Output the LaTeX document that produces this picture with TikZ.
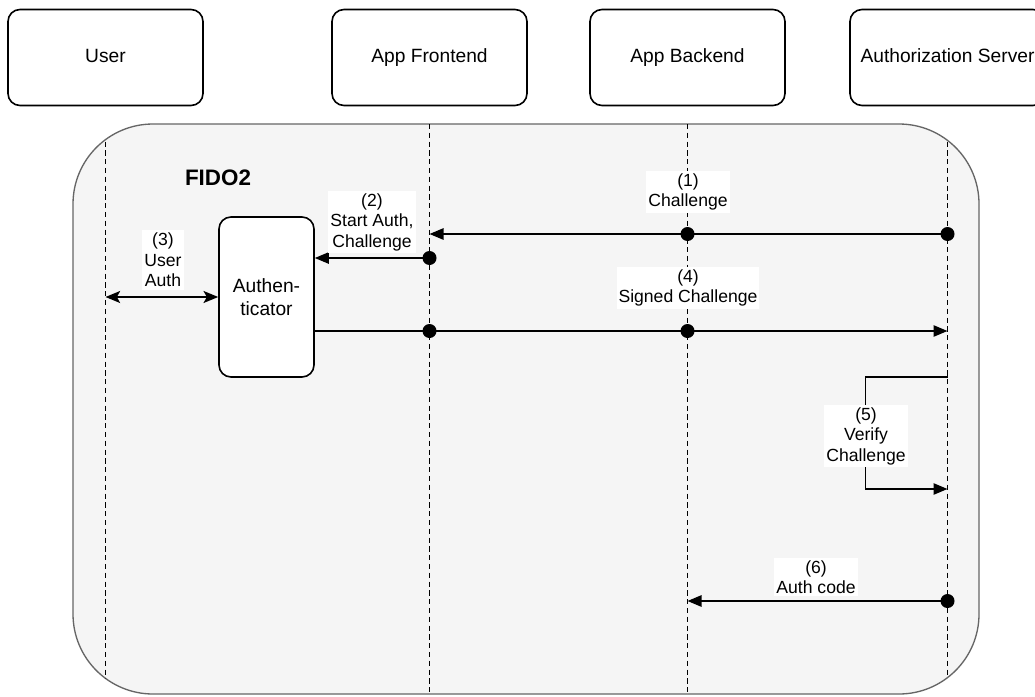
\documentclass[tikz,border=0pt]{standalone}
\usepackage{fontspec}
\setmainfont{Liberation Sans}
\usetikzlibrary{arrows.meta}

\definecolor{groupfill}{HTML}{F5F5F5}
\definecolor{groupline}{HTML}{666666}

\tikzset{
  actor/.style={draw, line width=1.2pt, rounded corners=9pt, fill=white,
    minimum width=146.25pt, minimum height=72pt, inner sep=0pt,
    text height=10.4pt, text depth=3pt,
    font=\fontsize{14.4}{17}\selectfont},
  authbox/.style={draw, line width=1.2pt, rounded corners=9pt, fill=white,
    minimum width=71.25pt, minimum height=120pt, inner sep=0pt, align=center,
    font=\fontsize{14.4}{17.3}\selectfont},
  lifeline/.style={line width=1.2pt, dash pattern=on 4pt off 2.6pt},
  msg/.style={line width=1.2pt, -{Triangle[length=10.5pt,width=8.5pt]}},
  both/.style={line width=1.2pt, {Stealth[length=11pt,width=9pt,inset=2.5pt]}-{Stealth[length=11pt,width=9pt,inset=2.5pt]}},
  msglabel/.style={fill=white, align=center, inner xsep=1.5pt, inner ysep=2pt,
    font=\fontsize{13.2}{15.4}\selectfont},
  dot/.style={circle, fill=black, inner sep=0pt, minimum size=10.5pt},
}

\begin{document}
\begin{tikzpicture}[x=0.75pt,y=-0.75pt]
  \clip (0,0) rectangle (1035,696);
  \fill[white] (0,0) rectangle (1035,696);

  % participants
  \node[actor] (user)    at (105.5,57.5) {User};
  \node[actor] (front)   at (429.5,57.5) {App Frontend};
  \node[actor] (back)    at (687.5,57.5) {App Backend};
  \node[actor] (authsrv) at (947.5,57.5) {Authorization Server};

  % FIDO2 group
  \draw[fill=groupfill, draw=groupline, line width=1pt, rounded corners=60pt]
    (73,124) rectangle (979,694);
  \coordinate (bottom) at (0,694);

  % lifelines, kept inside the group
  \begin{scope}
    \clip[rounded corners=60pt] (73,124) rectangle (979,694);
    \draw[lifeline] (user.south)    -- (user.south |- bottom);
    \draw[lifeline] (front.south)   -- (front.south |- bottom);
    \draw[lifeline] (back.south)    -- (back.south |- bottom);
    \draw[lifeline] (authsrv.south) -- (authsrv.south |- bottom);
  \end{scope}

  \node[font=\bfseries\fontsize{16.8}{20}\selectfont] (fido) at (218,178) {FIDO2};

  \node[authbox] (authn) at (266.5,297) {Authen-\\ticator};

  % points on the lifelines
  \coordinate (m1s) at (authsrv.south |- 0,234);
  \coordinate (m1b) at (back.south    |- 0,234);
  \coordinate (m1e) at (front.south   |- 0,234);
  \coordinate (m2s) at (front.south   |- 0,258);
  \coordinate (m3s) at (user.south    |- authn.west);
  \coordinate (m4f) at (front.south   |- 0,331);
  \coordinate (m4b) at (back.south    |- 0,331);
  \coordinate (m4e) at (authsrv.south |- 0,331);
  \coordinate (m5s) at (authsrv.south |- 0,377);
  \coordinate (m5e) at (authsrv.south |- 0,489);
  \coordinate (m6s) at (authsrv.south |- 0,601);
  \coordinate (m6e) at (back.south    |- 0,601);

  % (1) challenge
  \draw[msg] (m1s) -- (m1e);
  \node[msglabel] (l1) at (688,192) {(1)\\Challenge};

  % (2) start auth
  \draw[msg] (m2s) -- (m2s -| authn.east);
  \node[msglabel] (l2) at (372,222) {(2)\\Start Auth,\\Challenge};

  % (3) user auth
  \draw[both] (m3s) -- (authn.west);
  \node[msglabel] (l3) at (163,260) {(3)\\User\\Auth};

  % (4) signed challenge
  \draw[msg] (m4e -| authn.east) -- (m4e);
  \node[msglabel] (l4) at (688,288) {(4)\\Signed Challenge};

  % (5) verify challenge
  \draw[msg] (m5s) -- ++(-82,0) |- (m5e);
  \node[msglabel] (l5) at (866,436) {(5)\\Verify\\Challenge};

  % (6) auth code
  \draw[msg] (m6s) -- (m6e);
  \node[msglabel] (l6) at (816,577) {(6)\\Auth code};

  % sender dots
  \node[dot] at (m1s) {};
  \node[dot] at (m1b) {};
  \node[dot] at (m2s) {};
  \node[dot] at (m4f) {};
  \node[dot] at (m4b) {};
  \node[dot] at (m6s) {};
\end{tikzpicture}
\end{document}
